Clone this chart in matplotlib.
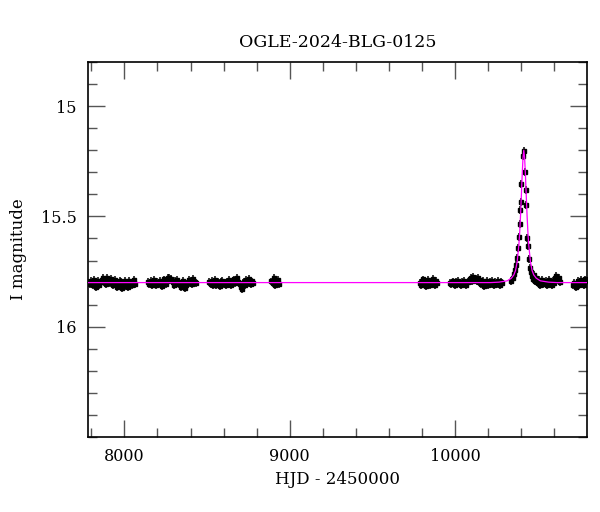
import matplotlib
matplotlib.use("Agg")
import matplotlib.pyplot as plt
from matplotlib.ticker import MultipleLocator, FixedLocator

# OGLE photometry, one list pair per observing season (HJD - 2450000, I mag)
t1 = [7783, 7789, 7796, 7802, 7809, 7815, 7822, 7829, 7835, 7842,
      7849, 7856, 7862, 7869, 7876, 7883, 7890, 7897, 7904, 7911,
      7918, 7925, 7932, 7939, 7946, 7953, 7960, 7967, 7974, 7981,
      7988, 7995, 8002, 8009, 8016, 8023, 8030, 8037, 8044, 8051,
      8058, 8064]
m1 = [15.800, 15.808, 15.792, 15.801, 15.812, 15.790, 15.798, 15.818, 15.803, 15.791,
      15.809, 15.797, 15.788, 15.781, 15.799, 15.786, 15.807, 15.779, 15.790, 15.802,
      15.783, 15.794, 15.811, 15.800, 15.789, 15.821, 15.803, 15.812, 15.791, 15.799,
      15.824, 15.806, 15.793, 15.814, 15.801, 15.819, 15.792, 15.803, 15.811, 15.798,
      15.790, 15.805]

t2 = [8144, 8151, 8158, 8165, 8172, 8179, 8186, 8193, 8200, 8207,
      8214, 8221, 8228, 8235, 8242, 8249, 8256, 8263, 8270, 8277,
      8284, 8291, 8298, 8305, 8312, 8319, 8326, 8333, 8340, 8347,
      8354, 8361, 8368, 8375, 8382, 8389, 8396, 8403, 8410, 8417,
      8424, 8431]
m2 = [15.797, 15.805, 15.791, 15.810, 15.799, 15.788, 15.802, 15.812, 15.796, 15.806,
      15.793, 15.803, 15.815, 15.798, 15.786, 15.808, 15.792, 15.781, 15.777, 15.790,
      15.784, 15.799, 15.811, 15.793, 15.805, 15.787, 15.796, 15.808, 15.818, 15.800,
      15.791, 15.805, 15.826, 15.812, 15.798, 15.789, 15.803, 15.794, 15.808, 15.785,
      15.797, 15.802]

t3 = [8514, 8521, 8528, 8535, 8542, 8549, 8556, 8563, 8570, 8577,
      8584, 8591, 8598, 8605, 8612, 8619, 8626, 8633, 8640, 8647,
      8654, 8661, 8668, 8675, 8682, 8689, 8696, 8703, 8710, 8717,
      8724, 8731, 8738, 8745, 8752, 8759, 8766, 8773, 8779]
m3 = [15.798, 15.806, 15.793, 15.809, 15.801, 15.790, 15.811, 15.797, 15.804, 15.815,
      15.799, 15.792, 15.808, 15.801, 15.812, 15.795, 15.806, 15.789, 15.798, 15.810,
      15.794, 15.786, 15.802, 15.791, 15.781, 15.796, 15.808, 15.819, 15.829, 15.804,
      15.797, 15.811, 15.790, 15.802, 15.784, 15.798, 15.807, 15.795, 15.803]

t4 = [8889, 8897, 8905, 8913, 8921, 8929, 8937]
m4 = [15.795, 15.803, 15.781, 15.812, 15.799, 15.788, 15.808]

t5 = [9787, 9794, 9801, 9808, 9815, 9822, 9829, 9836, 9843, 9850,
      9857, 9864, 9871, 9878, 9885, 9890]
m5 = [15.801, 15.809, 15.792, 15.786, 15.803, 15.815, 15.797, 15.790, 15.806, 15.812,
      15.795, 15.783, 15.801, 15.809, 15.794, 15.804]

t6 = [9970, 9977, 9984, 9991, 9998, 10005, 10012, 10019, 10026, 10033,
      10040, 10047, 10054, 10061, 10068, 10075, 10082, 10089, 10096, 10103,
      10110, 10117, 10124, 10131, 10138, 10145, 10152, 10159, 10166, 10173,
      10180, 10187, 10194, 10201, 10208, 10215, 10222, 10229, 10236, 10243,
      10250, 10257, 10264, 10271, 10278, 10283]
m6 = [15.801, 15.807, 15.795, 15.803, 15.811, 15.798, 15.806, 15.792, 15.800, 15.809,
      15.797, 15.804, 15.791, 15.802, 15.812, 15.799, 15.793, 15.786, 15.779, 15.791,
      15.776, 15.788, 15.783, 15.795, 15.781, 15.798, 15.790, 15.806, 15.794, 15.815,
      15.801, 15.808, 15.793, 15.811, 15.799, 15.805, 15.791, 15.803, 15.812, 15.797,
      15.807, 15.794, 15.803, 15.811, 15.798, 15.802]

# 2024 season with the microlensing event
t7 = [10340, 10348, 10356, 10362, 10368, 10374, 10380, 10385, 10389, 10393,
      10396, 10401, 10412, 10416, 10422, 10426, 10431, 10437, 10440, 10446,
      10452, 10457, 10465, 10470, 10476, 10482, 10488, 10494, 10500, 10507,
      10513, 10520, 10527, 10534, 10541, 10548, 10555, 10562, 10569, 10576,
      10583, 10590, 10597, 10604, 10611, 10618, 10625, 10632]
m7 = [15.792, 15.781, 15.762, 15.742, 15.721, 15.690, 15.645, 15.595, 15.535, 15.470,
      15.435, 15.355, 15.225, 15.205, 15.300, 15.380, 15.450, 15.600, 15.635, 15.695,
      15.735, 15.752, 15.771, 15.783, 15.765, 15.791, 15.779, 15.796, 15.803, 15.788,
      15.811, 15.799, 15.790, 15.808, 15.801, 15.794, 15.812, 15.800, 15.789, 15.803,
      15.810, 15.792, 15.801, 15.781, 15.772, 15.788, 15.779, 15.799]

t8 = [10714, 10721, 10728, 10735, 10742, 10749, 10756, 10763, 10770, 10777,
      10784, 10791]
m8 = [15.810, 15.801, 15.822, 15.803, 15.792, 15.812, 15.799, 15.790, 15.804, 15.811,
      15.786, 15.795]

mag_err = 0.018

# point-lens model curve
model_t = [7780, 10215, 10265, 10315, 10340, 10355, 10365, 10375, 10385, 10390,
           10395, 10400, 10405, 10410, 10415, 10420, 10425, 10430, 10435, 10440,
           10445, 10455, 10465, 10475, 10490, 10515, 10565, 10615, 10800]
model_m = [15.800, 15.800, 15.798, 15.792, 15.780, 15.765, 15.745, 15.705, 15.630, 15.575,
           15.500, 15.410, 15.315, 15.235, 15.200, 15.235, 15.315, 15.410, 15.500, 15.575,
           15.630, 15.705, 15.745, 15.765, 15.780, 15.792, 15.798, 15.800, 15.800]

y_labels = [15, 15.5, 16]

plt.rcParams["font.family"] = "DejaVu Serif"
plt.rcParams["font.size"] = 11.5

fig = plt.figure(figsize=(6.0, 5.12), dpi=100)
ax = fig.add_axes([0.1467, 0.1465, 0.8316, 0.7324])

for t, m in [(t1, m1), (t2, m2), (t3, m3), (t4, m4), (t5, m5), (t6, m6), (t7, m7), (t8, m8)]:
    ax.errorbar(t, m, yerr=mag_err, fmt="s", color="black", ecolor="black",
                markersize=3.4, elinewidth=1.1, capsize=0, zorder=2)

ax.plot(model_t, model_m, color="#ff00ff", linewidth=0.9, zorder=3)

ax.set_xlim(7780, 10797)
ax.set_ylim(16.5, 14.8)

ax.xaxis.set_major_locator(MultipleLocator(1000))
ax.xaxis.set_minor_locator(MultipleLocator(200))
ax.yaxis.set_major_locator(FixedLocator(y_labels))
ax.yaxis.set_minor_locator(MultipleLocator(0.1))
ax.yaxis.set_major_formatter(plt.FuncFormatter(lambda v, p: f"{v:g}"))

ax.tick_params(which="both", direction="in", top=True, right=True,
               color="#555555", pad=8)
ax.tick_params(which="major", length=12, width=1.0)
ax.tick_params(which="minor", length=6.5, width=1.0)
for s in ax.spines.values():
    s.set_linewidth(1.2)

ax.set_title("OGLE-2024-BLG-0125", fontsize=12.5, pad=11)
ax.set_xlabel("HJD - 2450000", fontsize=12, labelpad=4)
ax.set_ylabel("I magnitude", fontsize=12, labelpad=10)

fig.savefig("out.png", dpi=100)
